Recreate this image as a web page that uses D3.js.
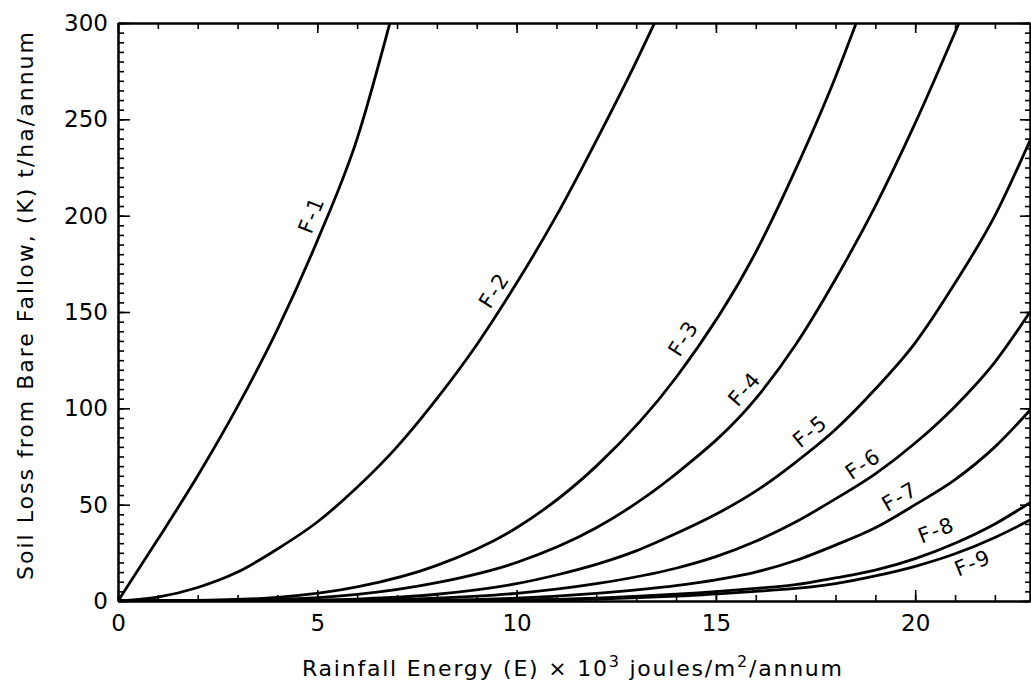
<!DOCTYPE html>
<html><head><meta charset="utf-8">
<script src="https://cdn.jsdelivr.net/npm/d3@7"></script>
<style>
html,body{margin:0;padding:0;background:#fff;}
svg{display:block;font-family:"DejaVu Sans",sans-serif;}
</style></head>
<body>
<svg id="chart" width="1031" height="684"></svg>
<script>
// ---- data ----
const seriesNames = ["F-1","F-2","F-3","F-4","F-5","F-6","F-7","F-8","F-9"];
const F1_E = [0,1,2,3,4,5,6,6.82];
const F1_K = [0,32,65,101,141,187,240,300];
const F2_E = [0,1,2,3,4,5,6,7,8,9,10,11,12,13,13.46];
const F2_K = [0,2,7,15,27,41,59,80,105,133,165,200,239,280,300];
const F3_E = [0,2,4,6,8,10,12,14,16,17,18,18.52];
const F3_K = [0,0.3,1.9,7.3,18.5,38,70,116,181,224,272,300];
const F4_E = [0,4,6,8,10,12,14,16,17,18,19,20,21.1];
const F4_K = [0,0.9,3.4,9.5,20,38,66,105,133,167,205,248,300];
const F5_E = [0,4,6,8,10,11,12,13,14,15,16,17,18,19,20,21,22,22.88];
const F5_K = [0,0.2,1,3.5,9,13.5,19,26,35,45,57,72,89,110,134,165,200,239];
const F6_E = [0,6,8,10,12,14,15,16,17,18,19,20,21,22,22.88];
const F6_K = [0,0.5,1.5,4,9,17,23,31,41,53,66,82,101,124,150];
const F7_E = [0,8,10,12,14,15,16,17,18,19,20,21,22,22.88];
const F7_K = [0,0.5,1.5,4,8,11,15,21,29,38,50,63,80,99];
const F8_E = [0,8,10,12,14,16,17,18,19,20,21,22,22.88];
const F8_K = [0,0.2,0.5,1.5,3.5,6.5,8.5,12,16,22,30,40,51];
const F9_E = [0,8,10,12,14,16,17,18,19,20,21,22,22.88];
const F9_K = [0,0.1,0.3,1,2.5,5,6.5,9,13,18,24.5,33,42];
const xMajorTicks = [0,5,10,15,20];
const yMajorTicks = [0,50,100,150,200,250,300];
const xTitle = "Rainfall Energy (E) \u00d7 10";
const yTitle = "Soil Loss from Bare Fallow, (K) t/ha/annum";

const seriesE = [F1_E,F2_E,F3_E,F4_E,F5_E,F6_E,F7_E,F8_E,F9_E];
const seriesK = [F1_K,F2_K,F3_K,F4_K,F5_K,F6_K,F7_K,F8_K,F9_K];

// ---- layout ----
const L = 118, R = 1030, T = 23, B = 601;
const xMax = 22.88;
const x = d3.scaleLinear().domain([0, xMax]).range([L, R]);
const y = d3.scaleLinear().domain([0, 300]).range([B, T]);
const svg = d3.select("#chart");
const FONT = "DejaVu Sans";

svg.append("defs").append("clipPath").attr("id","clip")
  .append("rect").attr("x",L).attr("y",T).attr("width",R-L+2).attr("height",B-T);

// ---- curves ----
const line = d3.line().x(d=>x(d[0])).y(d=>y(d[1])).curve(d3.curveMonotoneX);
const curveG = svg.append("g").attr("clip-path","url(#clip)");
seriesE.forEach((E,i)=>{
  const pts = E.map((e,j)=>[e, seriesK[i][j]]);
  curveG.append("path").attr("d", line(pts)).attr("fill","none")
    .attr("stroke","#000").attr("stroke-width",2.8).attr("stroke-linejoin","round");
});

// ---- axes ----
const xMinor = d3.range(0, 23, 1);
const yMinor = d3.range(0, 301, 5);
function styleAxis(g){
  g.selectAll("path.domain").attr("stroke","#000").attr("stroke-width",2);
  g.selectAll(".tick line").attr("stroke","#000").attr("stroke-width",1.6);
  g.selectAll("text").attr("font-family",FONT).attr("font-size",23).attr("fill","#000");
}
// bottom
svg.append("g").attr("transform",`translate(0,${B})`)
  .call(d3.axisBottom(x).tickValues(xMinor).tickSize(-6).tickSizeOuter(0).tickFormat(""))
  .call(styleAxis);
svg.append("g").attr("transform",`translate(0,${B})`)
  .call(d3.axisBottom(x).tickValues(xMajorTicks).tickSize(-11).tickSizeOuter(0).tickPadding(14).tickFormat(d3.format("d")))
  .call(styleAxis);
// top
svg.append("g").attr("transform",`translate(0,${T})`)
  .call(d3.axisTop(x).tickValues(xMinor).tickSize(-6).tickSizeOuter(0).tickFormat(""))
  .call(styleAxis);
svg.append("g").attr("transform",`translate(0,${T})`)
  .call(d3.axisTop(x).tickValues(xMajorTicks).tickSize(-10).tickSizeOuter(0).tickFormat(""))
  .call(styleAxis);
// left
svg.append("g").attr("transform",`translate(${L},0)`)
  .call(d3.axisLeft(y).tickValues(yMinor).tickSize(-6).tickSizeOuter(0).tickFormat(""))
  .call(styleAxis);
svg.append("g").attr("transform",`translate(${L},0)`)
  .call(d3.axisLeft(y).tickValues(yMajorTicks).tickSize(-12).tickSizeOuter(0).tickPadding(10).tickFormat(d3.format("d")))
  .call(styleAxis);
// right
svg.append("g").attr("transform",`translate(${R},0)`)
  .call(d3.axisRight(y).tickValues(yMinor).tickSize(-5).tickSizeOuter(0).tickFormat(""))
  .call(styleAxis);
svg.append("g").attr("transform",`translate(${R},0)`)
  .call(d3.axisRight(y).tickValues(yMajorTicks).tickSize(-10).tickSizeOuter(0).tickFormat(""))
  .call(styleAxis);

// ---- axis titles ----
const xt = svg.append("text").attr("x",572).attr("y",676).attr("text-anchor","middle")
  .attr("font-family",FONT).attr("font-size",22).attr("fill","#000")
  .attr("textLength",540).attr("lengthAdjust","spacing");
xt.append("tspan").text(xTitle);
xt.append("tspan").attr("baseline-shift","super").attr("font-size",16).text("3");
xt.append("tspan").text(" joules/m");
xt.append("tspan").attr("baseline-shift","super").attr("font-size",16).text("2");
xt.append("tspan").text("/annum");

svg.append("text").attr("transform",`translate(33,306) rotate(-90)`)
  .attr("text-anchor","middle").attr("font-family",FONT).attr("font-size",22).attr("fill","#000")
  .attr("textLength",548).attr("lengthAdjust","spacing").text(yTitle);

// ---- curve labels ----
function kAt(E, K, e){
  for(let j=1;j<E.length;j++){ if(e<=E[j]){ const t=(e-E[j-1])/(E[j]-E[j-1]); return K[j-1]+t*(K[j]-K[j-1]); } }
  return K[K.length-1];
}
const labelAtE = [5.2, 9.75, 14.5, 16.0, 17.6, 18.9, 19.8, 20.7, 21.3];
const labelOff = [15,15,15,15,15,15,15,19,-15];
seriesNames.forEach((name,i)=>{
  const E = seriesE[i], K = seriesK[i], e = labelAtE[i];
  const px = x(e), py = y(kAt(E,K,e));
  const x1 = x(e-0.25), y1 = y(kAt(E,K,e-0.25)), x2 = x(e+0.25), y2 = y(kAt(E,K,e+0.25));
  const ang = Math.atan2(y2-y1, x2-x1);
  const off = labelOff[i];
  const nx = Math.sin(ang)*off, ny = -Math.cos(ang)*off;
  svg.append("text").attr("transform",`translate(${px+nx},${py+ny}) rotate(${ang*180/Math.PI})`)
    .attr("text-anchor","middle").attr("dy","0.35em")
    .attr("font-family",FONT).attr("font-size",21).attr("letter-spacing",1.5).attr("fill","#000")
    .text(name);
});
</script>
</body></html>
